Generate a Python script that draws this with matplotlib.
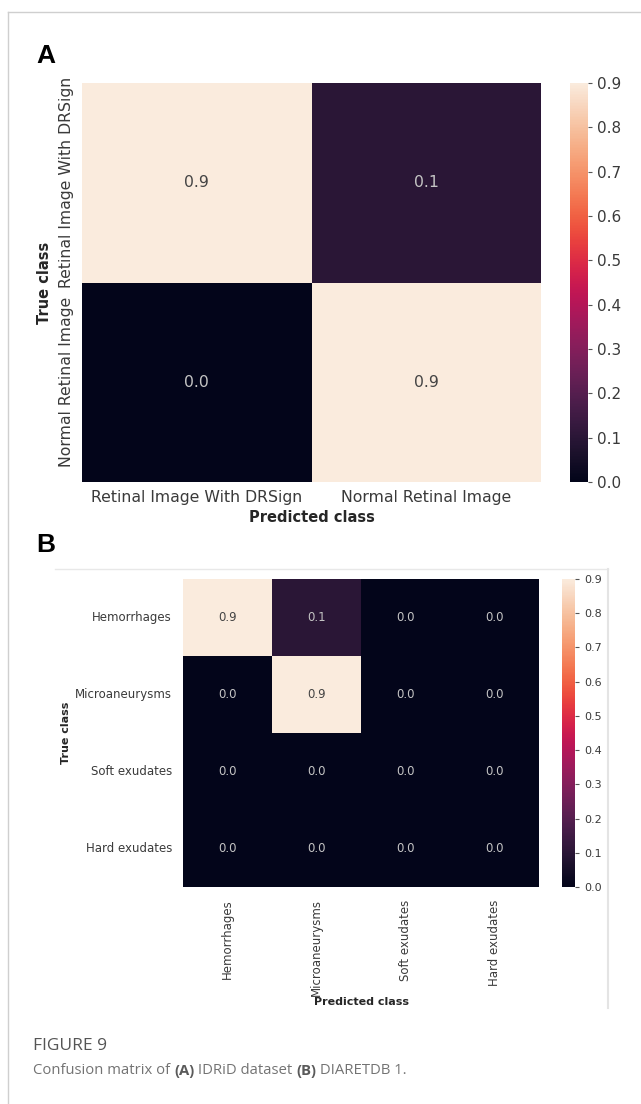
import numpy as np
import matplotlib
matplotlib.use("Agg")
import matplotlib.pyplot as plt
import seaborn as sns
from matplotlib.lines import Line2D

# Panel A - IDRiD
classes_a = ['Retinal Image With DRSign', 'Normal Retinal Image']
cm_a = np.array([[0.9, 0.1],
                 [0.0, 0.9]])

# Panel B - DIARETDB 1
classes_b = ['Hemorrhages', 'Microaneurysms', 'Soft exudates', 'Hard exudates']
cm_b = np.array([[0.9, 0.1, 0.0, 0.0],
                 [0.0, 0.9, 0.0, 0.0],
                 [0.0, 0.0, 0.0, 0.0],
                 [0.0, 0.0, 0.0, 0.0]])

cbar_ticks = [0.0, 0.1, 0.2, 0.3, 0.4, 0.5, 0.6, 0.7, 0.8, 0.9]

W, H = 641, 1104
fig = plt.figure(figsize=(W / 100, H / 100), dpi=100)


def box(x0, y0, x1, y1):
    # pixel box (top-left origin) -> figure fraction rect
    return [x0 / W, 1 - y1 / H, (x1 - x0) / W, (y1 - y0) / H]


def draw_cm(ax, cax, cm, labels, fs, cfs):
    sns.heatmap(cm, ax=ax, cbar_ax=cax, cmap='rocket', annot=True, fmt='.1f',
                annot_kws={'fontsize': fs}, xticklabels=labels, yticklabels=labels,
                vmin=0, vmax=0.9, cbar_kws={'ticks': cbar_ticks})
    for t, v in zip(ax.texts, cm.ravel()):
        t.set_color('#444444' if v > 0.45 else '#c4c4c4')
    ax.tick_params(length=0, labelcolor='#3a3a3a')
    cax.tick_params(labelsize=cfs, length=3, width=0.8, color='#555555', labelcolor='#3a3a3a')
    cax.yaxis.set_major_formatter(matplotlib.ticker.FormatStrFormatter('%.1f'))


# ---- A ----
ax_a = fig.add_axes(box(82, 83, 541, 482))
cax_a = fig.add_axes(box(570, 83, 588, 482))
draw_cm(ax_a, cax_a, cm_a, classes_a, 11.3, 11)
ax_a.tick_params(axis='x', labelsize=11.3, pad=6)
ax_a.tick_params(axis='y', labelsize=11.3, pad=6)
plt.setp(ax_a.get_yticklabels(), rotation=90, va='center')
plt.setp(ax_a.get_xticklabels(), rotation=0)
ax_a.set_xlabel('Predicted class', fontsize=10.5, fontweight='bold', color='#262626')
ax_a.set_ylabel('True class', fontsize=10.5, fontweight='bold', color='#262626')
ax_a.xaxis.set_label_coords(0.5, -0.07)
ax_a.yaxis.set_label_coords(-0.065, 0.5)

# ---- B ----
ax_b = fig.add_axes(box(183, 579, 539, 887))
cax_b = fig.add_axes(box(562, 579, 575, 887))
draw_cm(ax_b, cax_b, cm_b, classes_b, 8.5, 8)
ax_b.tick_params(axis='x', labelsize=8.5, pad=9)
ax_b.tick_params(axis='y', labelsize=8.5, pad=8)
plt.setp(ax_b.get_xticklabels(), rotation=90, va='top')
plt.setp(ax_b.get_yticklabels(), rotation=0)
ax_b.set_xlabel('Predicted class', fontsize=8, fontweight='bold', color='#262626')
ax_b.set_ylabel('True class', fontsize=8, fontweight='bold', color='#262626')
ax_b.xaxis.set_label_coords(0.5, -0.358)
ax_b.yaxis.set_label_coords(-0.315, 0.5)

# panel letters
letter_font = ['Liberation Sans', 'DejaVu Sans']
fig.text(36 / W, 1 - 56 / H, 'A', fontsize=19, fontweight='bold', family=letter_font,
         va='center', ha='left')
fig.text(36 / W, 1 - 545 / H, 'B', fontsize=19, fontweight='bold', family=letter_font,
         va='center', ha='left')

# frame lines
fig.add_artist(Line2D([8 / W, 1], [1 - 12 / H, 1 - 12 / H], color='#cfcfcf', lw=1))
fig.add_artist(Line2D([8 / W, 8 / W], [1 - 12 / H, 0], color='#cfcfcf', lw=1))
fig.add_artist(Line2D([55 / W, 608 / W], [1 - 569 / H, 1 - 569 / H], color='#e8e8e8', lw=1))
fig.add_artist(Line2D([608 / W, 608 / W], [1 - 569 / H, 1 - 1008 / H], color='#e4e4e4', lw=1.5))

# caption
cap_font = ['Open Sans', 'DejaVu Sans']
fig.text(33 / W, 1 - 1046 / H, 'FIGURE 9', fontsize=12.5, family=cap_font,
         color='#555555', va='center', ha='left')
renderer = fig.canvas.get_renderer()
pieces = [('Confusion matrix of ', 'normal'), ('(A)', 'bold'), (' IDRiD dataset ', 'normal'),
          ('(B)', 'bold'), (' DIARETDB 1.', 'normal')]
x = 33 / W
for s, w in pieces:
    t = fig.text(x, 1 - 1071 / H, s, fontsize=10.7, family=cap_font, fontweight=w,
                 color='#5a5a5a' if w == 'bold' else '#737373', va='center', ha='left')
    bb = t.get_window_extent(renderer)
    x += bb.width / W

fig.savefig('out.png', dpi=100)
